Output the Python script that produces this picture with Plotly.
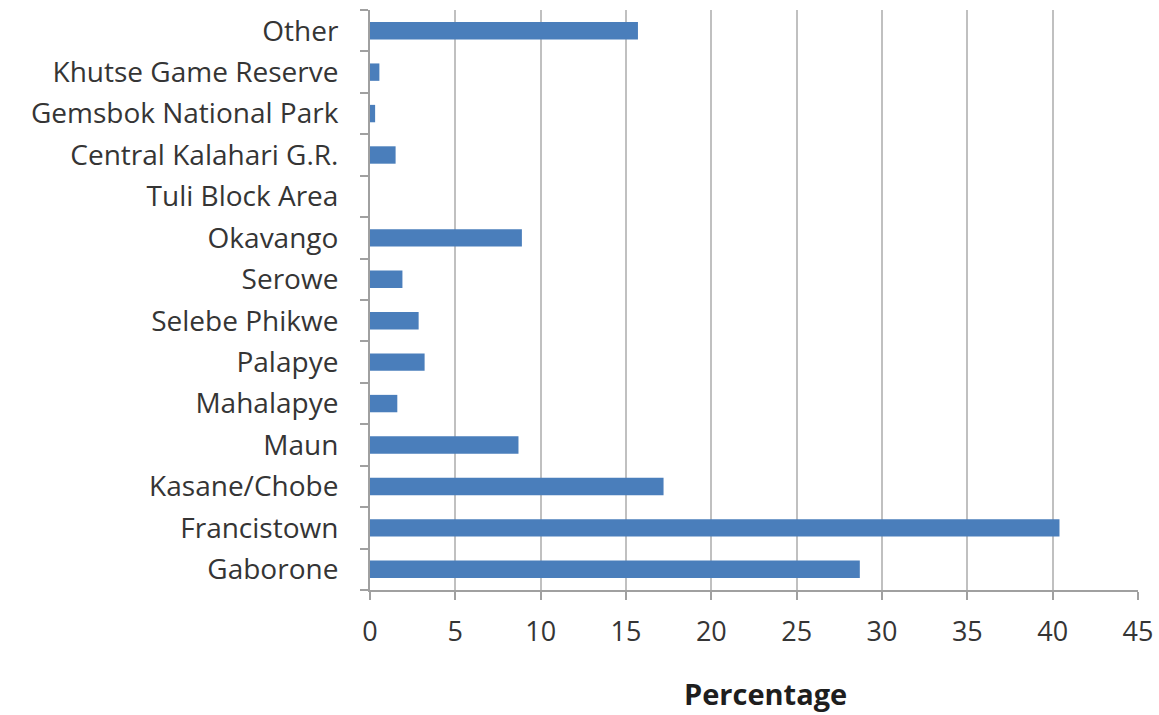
import plotly.graph_objects as go

# Share of respondents by location (percent), listed bottom to top
locations = [
    "Gaborone", "Francistown", "Kasane/Chobe", "Maun", "Mahalapye",
    "Palapye", "Selebe Phikwe", "Serowe", "Okavango", "Tuli Block Area",
    "Central Kalahari G.R.", "Gemsbok National Park", "Khutse Game Reserve", "Other",
]
percentages = [28.7, 40.4, 17.2, 8.7, 1.6, 3.2, 2.85, 1.9, 8.9, 0.0, 1.5, 0.3, 0.55, 15.7]
x_ticks = [0, 5, 10, 15, 20, 25, 30, 35, 40, 45]
x_title = "Percentage"

font_family = "Gill Sans, Open Sans, Lato, sans-serif"
text_color = "#353535"
axis_gray = "#a0a0a0"

fig = go.Figure(
    go.Bar(
        x=percentages,
        y=locations,
        orientation="h",
        marker=dict(color="#4a7ebb", line=dict(width=0)),
        width=0.42,
        hoverinfo="x+y",
    )
)

fig.update_layout(
    width=1159,
    height=715,
    margin=dict(l=370, r=21, t=10, b=125, autoexpand=False),
    paper_bgcolor="white",
    plot_bgcolor="white",
    showlegend=False,
    font=dict(family=font_family, color=text_color),
)

fig.update_xaxes(
    range=[0, 45],
    tickvals=x_ticks,
    ticktext=[str(v) for v in x_ticks],
    tickfont=dict(size=27, color=text_color),
    showgrid=True,
    gridcolor="#c0c0c0",
    gridwidth=2,
    zeroline=False,
    showline=True,
    linecolor=axis_gray,
    linewidth=2,
    ticks="outside",
    ticklen=8,
    tickwidth=1.5,
    tickcolor=axis_gray,
    ticklabelstandoff=9,
    automargin=False,
)

# Axis title, placed slightly right of the plot centre
fig.add_annotation(
    text=f"<b>{x_title}</b>",
    xref="paper",
    yref="paper",
    x=0.515,
    y=-0.178,
    xanchor="center",
    yanchor="middle",
    showarrow=False,
    font=dict(size=29, color="#1e1e1e", family=font_family),
)

fig.update_yaxes(
    categoryorder="array",
    categoryarray=locations,
    range=[-0.5, 13.5],
    tickson="boundaries",
    ticks="outside",
    ticklen=8,
    tickwidth=1.5,
    tickcolor=axis_gray,
    showline=True,
    linecolor=axis_gray,
    linewidth=2,
    showgrid=False,
    zeroline=False,
    tickfont=dict(size=28, color=text_color),
    ticklabelstandoff=24,
    automargin=False,
)

fig.write_html("out.html")
